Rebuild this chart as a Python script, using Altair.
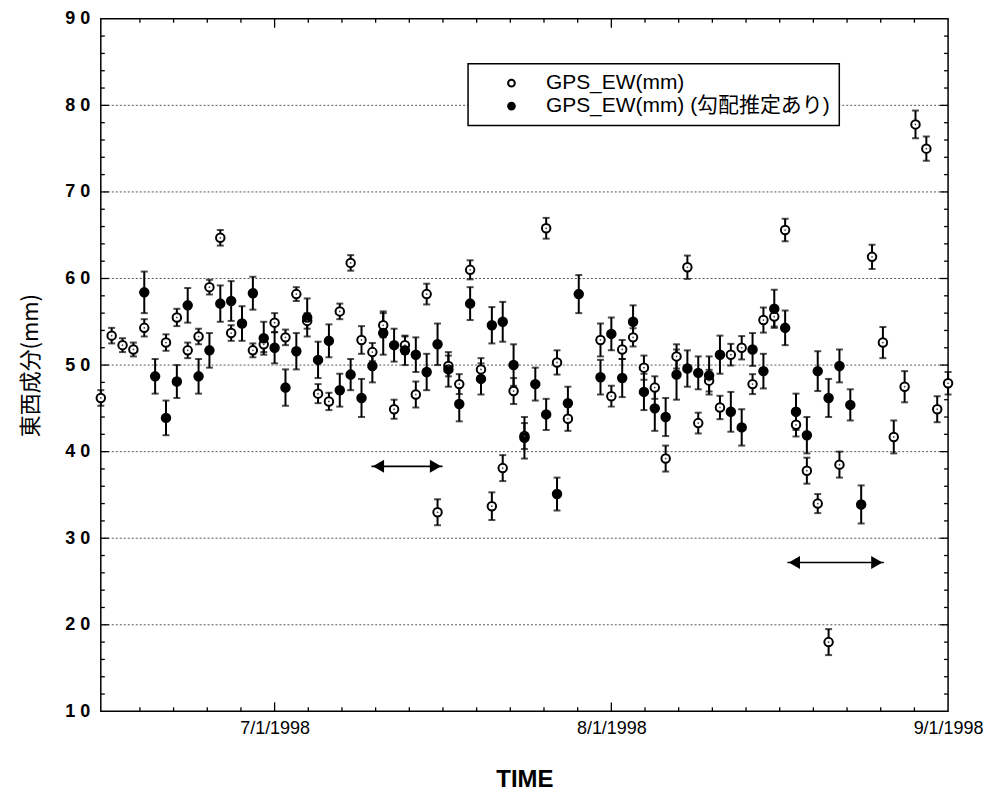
import altair as alt
import pandas as pd

# ---------------- data ----------------
LABEL_OPEN = "GPS_EW(mm)"
LABEL_FILL = "GPS_EW(mm) (勾配推定あり)"

open_dates = ["06-15", "06-16", "06-17", "06-18", "06-19", "06-21", "06-22", "06-23",
              "06-24", "06-25", "06-26", "06-27", "06-29", "06-30", "07-01", "07-02",
              "07-03", "07-04", "07-05", "07-06", "07-07", "07-08", "07-09", "07-10",
              "07-11", "07-12", "07-13", "07-14", "07-15", "07-16", "07-17", "07-18",
              "07-19", "07-20", "07-21", "07-22", "07-23", "07-24", "07-26", "07-27",
              "07-28", "07-31", "08-01", "08-02", "08-03", "08-04", "08-05", "08-06",
              "08-07", "08-08", "08-09", "08-10", "08-11", "08-12", "08-13", "08-14",
              "08-15", "08-16", "08-17", "08-18", "08-19", "08-20", "08-21", "08-22",
              "08-25", "08-26", "08-27", "08-28", "08-29", "08-30", "08-31", "09-01"]
open_vals = [46.2, 53.4, 52.3, 51.8, 54.3, 52.6, 55.5, 51.7,
             53.3, 59.0, 64.7, 53.7, 51.7, 52.4, 54.9, 53.2,
             58.2, 55.1, 46.7, 45.8, 56.2, 61.8, 52.9, 51.5,
             54.6, 44.9, 52.3, 46.6, 58.2, 33.0, 49.9, 47.8,
             61.0, 49.5, 33.7, 38.1, 47.0, 41.8, 65.8, 50.3,
             43.8, 52.9, 46.4, 51.8, 53.2, 49.7, 47.4, 39.2,
             51.0, 61.3, 43.3, 48.2, 45.1, 51.2, 52.0, 47.8,
             55.2, 55.6, 65.6, 43.1, 37.8, 34.0, 18.0, 38.5,
             62.5, 52.6, 41.7, 47.5, 77.8, 75.0, 44.9, 47.9]
open_errs = [0.9, 0.9, 0.8, 0.8, 1.0, 0.95, 1.0, 0.9,
             0.9, 0.85, 0.9, 0.9, 0.8, 0.9, 1.1, 0.9,
             0.8, 0.9, 1.1, 1.0, 0.9, 0.9, 1.6, 1.05,
             1.4, 1.1, 1.0, 1.5, 1.2, 1.5, 1.2, 1.15,
             1.1, 1.3, 1.6, 1.5, 1.5, 1.5, 1.2, 1.4,
             1.4, 1.9, 1.2, 1.1, 1.05, 1.4, 1.3, 1.5,
             1.4, 1.35, 1.2, 1.25, 1.35, 1.25, 1.35, 1.15,
             1.45, 1.15, 1.3, 1.35, 1.5, 1.1, 1.5, 1.5,
             1.4, 1.8, 1.9, 1.8, 1.6, 1.4, 1.5, 1.3]

fill_dates = ["06-19", "06-20", "06-21", "06-22", "06-23", "06-24", "06-25", "06-26",
              "06-27", "06-28", "06-29", "06-30", "07-01", "07-02", "07-03", "07-04",
              "07-05", "07-06", "07-07", "07-08", "07-09", "07-10", "07-11", "07-12",
              "07-13", "07-14", "07-15", "07-16", "07-17", "07-18", "07-19", "07-20",
              "07-21", "07-22", "07-23", "07-24", "07-25", "07-26", "07-27", "07-28",
              "07-29", "07-31", "08-01", "08-02", "08-03", "08-04", "08-05", "08-06",
              "08-07", "08-08", "08-09", "08-10", "08-11", "08-12", "08-13", "08-14",
              "08-15", "08-16", "08-17", "08-18", "08-19", "08-20", "08-21", "08-22",
              "08-23", "08-24"]
fill_vals = [58.4, 48.7, 43.9, 48.1, 56.9, 48.7, 51.7, 57.1,
             57.4, 54.8, 58.3, 53.1, 52.0, 47.4, 51.6, 55.5,
             50.6, 52.8, 47.1, 48.9, 46.2, 49.9, 53.7, 52.3,
             51.7, 51.2, 49.2, 52.4, 49.5, 45.5, 57.1, 48.4,
             54.6, 55.0, 50.0, 41.6, 47.8, 44.3, 35.1, 45.6,
             58.2, 48.6, 53.6, 48.5, 55.0, 46.9, 45.0, 44.0,
             48.9, 49.6, 49.1, 48.8, 51.2, 44.6, 42.8, 51.8,
             49.3, 56.5, 54.3, 44.6, 41.9, 49.3, 46.2, 49.9,
             45.4, 33.9]
fill_errs = [2.4, 2.0, 2.0, 1.9, 2.0, 2.0, 2.0, 2.1,
             2.3, 2.0, 1.9, 1.9, 1.8, 2.1, 2.1, 2.2,
             2.1, 1.9, 1.9, 1.8, 2.2, 1.9, 2.5, 1.9,
             1.7, 2.0, 2.1, 2.4, 2.0, 2.0, 1.9, 1.8,
             2.1, 2.3, 2.4, 2.4, 1.9, 1.8, 1.9, 1.9,
             2.2, 2.0, 1.9, 2.2, 1.9, 2.1, 2.6, 2.2,
             2.9, 2.1, 1.9, 2.2, 2.2, 2.3, 2.1, 1.9,
             2.0, 2.2, 2.0, 2.1, 2.1, 2.3, 2.2, 1.9,
             1.8, 2.2]

# double-headed arrows (annotation periods)
arrow_start = ["1998-07-09T22:00:00", "1998-08-17T05:00:00"]
arrow_end = ["1998-07-16T11:00:00", "1998-08-26T02:00:00"]
arrow_y = [38.3, 27.2]

y_label_values = [10, 20, 30, 40, 50, 60, 70, 80, 90]
grid_values = [20, 30, 40, 50, 60, 70, 80]
x_label_months = [7, 8, 9]

# ---------------- build tables ----------------
rows = []
for d, v, e in zip(open_dates, open_vals, open_errs):
    rows.append({"date": f"1998-{d}T00:00:00", "value": v, "lo": v - e, "hi": v + e,
                 "series": LABEL_OPEN})
for d, v, e in zip(fill_dates, fill_vals, fill_errs):
    rows.append({"date": f"1998-{d}T00:00:00", "value": v, "lo": v - e, "hi": v + e,
                 "series": LABEL_FILL})
df = pd.DataFrame(rows)
df_open = df[df.series == LABEL_OPEN]

arrows = pd.DataFrame({"start": arrow_start, "end": arrow_end, "y": arrow_y})
grid_df = pd.DataFrame({"v": grid_values})

# axis tick decorations (tenths of a month, KaleidaGraph style)
base7 = pd.Timestamp("1998-07-01")
minor_x = [(base7 + pd.Timedelta(days=3.1 * k)).strftime("%Y-%m-%dT%H:%M:%S")
           for k in range(-4, 20) if k not in (0, 10)]
major_x = ["1998-07-01T00:00:00", "1998-08-01T00:00:00"]
minor_x_df = pd.DataFrame({"date": minor_x})
major_x_df = pd.DataFrame({"date": major_x})
minor_y_df = pd.DataFrame({"v": [v for v in range(12, 90, 2) if v % 10 != 0]})
major_y_df = pd.DataFrame({"v": grid_values})

W, H = 849, 694
FONT = "Liberation Sans"
CJK = "Noto Sans CJK JP"

xscale = alt.Scale(domain=[alt.DateTime(year=1998, month=6, date=15),
                           alt.DateTime(year=1998, month=9, date=1)])
yscale = alt.Scale(domain=[10, 90], nice=False, zero=False)

x_axis = alt.Axis(values=[alt.DateTime(year=1998, month=m, date=1) for m in x_label_months],
                  format="%-m/%-d/%Y", title="TIME", grid=False, ticks=False,
                  domain=False, labelFont=FONT, labelFontSize=18, labelColor="black",
                  labelPadding=8, labelFlush=False, titleFont=FONT, titleFontSize=24,
                  titleFontWeight="bold", titleColor="black", titlePadding=30)
y_axis = alt.Axis(values=y_label_values,
                  labelExpr="substring(datum.label,0,1) + ' ' + substring(datum.label,1)",
                  grid=False, ticks=False, domain=False, labelFont=FONT,
                  labelFontSize=18, labelFontWeight="bold", labelColor="black",
                  labelPadding=11, title="東西成分(mm)", titleFont=CJK,
                  titleFontSize=22, titleFontWeight="normal", titleColor="black",
                  titlePadding=22)


def X(f="date:T"):
    return alt.X(f, scale=xscale, axis=x_axis, title="TIME")


def Y(f):
    return alt.Y(f, scale=yscale, axis=y_axis, title="東西成分(mm)")


# gridlines
grid = alt.Chart(grid_df).mark_rule(color="#555555", strokeWidth=1, strokeDash=[2, 2]).encode(
    y=Y("v:Q"))

# tick decorations
tick_layers = []
for data, ln in ((minor_x_df, 4), (major_x_df, 9)):
    tick_layers.append(alt.Chart(data).mark_rule(color="black", strokeWidth=1.3).encode(
        x=X(), y=alt.value(H), y2=alt.value(H - ln)))
    tick_layers.append(alt.Chart(data).mark_rule(color="black", strokeWidth=1.3).encode(
        x=X(), y=alt.value(0), y2=alt.value(ln)))
for data, ln in ((minor_y_df, 4), (major_y_df, 8)):
    tick_layers.append(alt.Chart(data).mark_rule(color="black", strokeWidth=1.3).encode(
        y=Y("v:Q"), x=alt.value(0), x2=alt.value(ln)))
    tick_layers.append(alt.Chart(data).mark_rule(color="black", strokeWidth=1.3).encode(
        y=Y("v:Q"), x=alt.value(W), x2=alt.value(W - ln)))

# error bars
errbars = alt.Chart(df).mark_rule(color="black", strokeWidth=2).encode(
    x=X(), y=Y("lo:Q"), y2="hi:Q")
caps = alt.Chart(df).transform_fold(["lo", "hi"], as_=["end", "yv"]).mark_tick(
    orient="horizontal", size=7, thickness=2, color="black").encode(
    x=X(), y=Y("yv:Q"))

# points
points = alt.Chart(df).mark_point(shape="circle", filled=True, size=72, stroke="black",
                                  strokeWidth=2, opacity=1).encode(
    x=X(), y=Y("value:Q"),
    fill=alt.Fill("series:N",
                  scale=alt.Scale(domain=[LABEL_OPEN, LABEL_FILL], range=["white", "black"]),
                  legend=alt.Legend(title=None, orient="none", legendX=368, legendY=45,
                                    strokeColor="black", fillColor="white",
                                    padding=9, symbolOffset=24, labelOffset=24,
                                    symbolType="circle", symbolSize=45,
                                    symbolStrokeColor="black", symbolStrokeWidth=2,
                                    labelFont=f"{FONT}, {CJK}", labelFontSize=21,
                                    labelLimit=0, labelColor="black", rowPadding=1)))

dots = alt.Chart(df_open).mark_point(shape="circle", filled=True, size=3, color="#444444",
                                     opacity=1).encode(x=X(), y=Y("value:Q"))

# arrows
shaft = alt.Chart(arrows).mark_rule(color="black", strokeWidth=1.6).encode(
    x=X("start:T"), x2="end:T", y=Y("y:Q"))
head_l = alt.Chart(arrows).mark_point(shape="triangle-left", filled=True, size=170,
                                      color="black", opacity=1, xOffset=7).encode(
    x=X("start:T"), y=Y("y:Q"))
head_r = alt.Chart(arrows).mark_point(shape="triangle-right", filled=True, size=170,
                                      color="black", opacity=1, xOffset=-7).encode(
    x=X("end:T"), y=Y("y:Q"))

chart = alt.layer(grid, *tick_layers, errbars, caps, points, dots, shaft, head_l, head_r).properties(
    width=W, height=H,
    autosize=alt.AutoSizeParams(type="none"),
    padding={"left": 93, "top": 10, "right": 37, "bottom": 80},
    background="white",
).configure_view(stroke="black", strokeWidth=1.5).configure_legend(strokeWidth=1.5)

chart.save("out.html", embed_options={"renderer": "svg", "actions": False})
